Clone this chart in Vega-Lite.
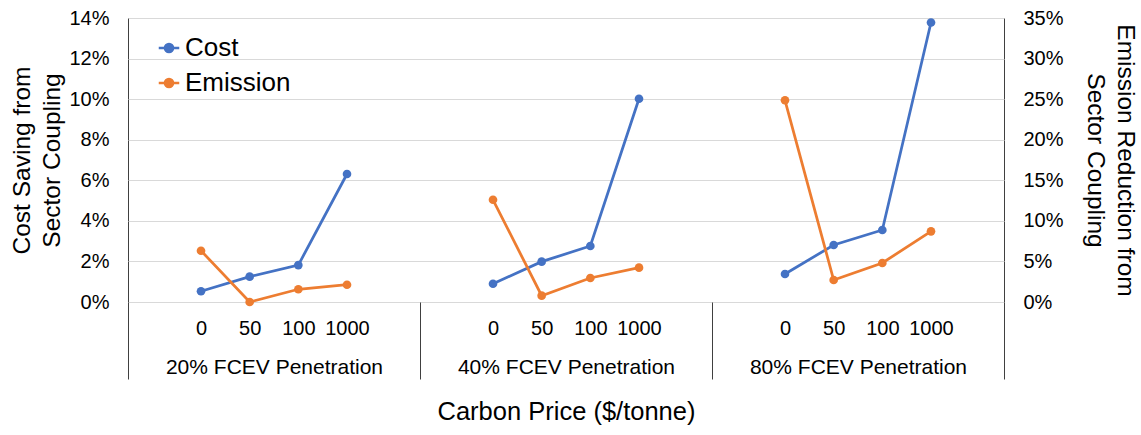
{
  "$schema": "https://vega.github.io/schema/vega-lite/v6.json",
  "width": 876,
  "height": 284,
  "autosize": {"type": "none"},
  "padding": {"left": 128, "top": 18, "right": 137, "bottom": 133},
  "background": "white",
  "config": {
    "font": "Liberation Sans",
    "view": {"stroke": "#404040", "strokeWidth": 1},
    "axis": {"labelColor": "#000000", "titleColor": "#000000", "titleFontWeight": "normal", "domain": false, "ticks": false, "labelLimit": 0}
  },
  "datasets": {
    "d": [
      {"group": "20% FCEV Penetration", "price": "0", "cat": "20%|0", "cost": 0.0053, "emission": 0.0632},
      {"group": "20% FCEV Penetration", "price": "50", "cat": "20%|50", "cost": 0.0125, "emission": 0.0},
      {"group": "20% FCEV Penetration", "price": "100", "cat": "20%|100", "cost": 0.0182, "emission": 0.0157},
      {"group": "20% FCEV Penetration", "price": "1000", "cat": "20%|1000", "cost": 0.0631, "emission": 0.0213},
      {"group": "40% FCEV Penetration", "price": "0", "cat": "40%|0", "cost": 0.0090, "emission": 0.126},
      {"group": "40% FCEV Penetration", "price": "50", "cat": "40%|50", "cost": 0.0199, "emission": 0.0078},
      {"group": "40% FCEV Penetration", "price": "100", "cat": "40%|100", "cost": 0.0276, "emission": 0.0296},
      {"group": "40% FCEV Penetration", "price": "1000", "cat": "40%|1000", "cost": 0.1002, "emission": 0.0423},
      {"group": "80% FCEV Penetration", "price": "0", "cat": "80%|0", "cost": 0.0138, "emission": 0.2486},
      {"group": "80% FCEV Penetration", "price": "50", "cat": "80%|50", "cost": 0.0281, "emission": 0.0271},
      {"group": "80% FCEV Penetration", "price": "100", "cat": "80%|100", "cost": 0.0355, "emission": 0.0481},
      {"group": "80% FCEV Penetration", "price": "1000", "cat": "80%|1000", "cost": 0.1378, "emission": 0.0871}
    ],
    "groups": [
      {"group": "20% FCEV Penetration"},
      {"group": "40% FCEV Penetration"},
      {"group": "80% FCEV Penetration"}
    ]
  },
  "layer": [
    {
      "data": {"name": "d"},
      "layer": [
        {
          "mark": {"type": "line", "strokeWidth": 2.75, "clip": false, "point": {"filled": true, "size": 75}},
          "encoding": {
            "x": {
              "field": "cat", "type": "ordinal",
              "scale": {"type": "point", "padding": 0.5, "domain": ["20%|xa", "20%|0", "20%|50", "20%|100", "20%|1000", "20%|xb", "40%|xa", "40%|0", "40%|50", "40%|100", "40%|1000", "40%|xb", "80%|xa", "80%|0", "80%|50", "80%|100", "80%|1000", "80%|xb"]},
              "axis": {"orient": "bottom", "title": null, "grid": false, "labelAngle": 0, "labelFontSize": 20, "labelBaseline": "middle", "labelPadding": 26, "labelOverlap": false, "labelExpr": "indexof(datum.value, '|x') >= 0 ? '' : split(datum.value, '|')[1]"}
            },
            "y": {
              "field": "cost", "type": "quantitative",
              "scale": {"domain": [0, 0.14], "nice": false, "zero": true},
              "axis": {"orient": "left", "values": [0, 0.02, 0.04, 0.06, 0.08, 0.1, 0.12, 0.14], "format": ".0%", "grid": true, "gridColor": "#d9d9d9", "labelFontSize": 20, "labelPadding": 19, "title": ["Cost Saving from", "Sector Coupling"], "titleFontSize": 24.5, "titleLineHeight": 30, "titlePadding": 4}
            },
            "color": {
              "datum": "Cost", "type": "nominal",
              "scale": {"domain": ["Cost", "Emission"], "range": ["#4472C4", "#ED7D31"]},
              "legend": {
                "title": null, "orient": "none", "legendX": 28, "legendY": 17,
                "labelFontSize": 26, "labelColor": "#000000", "symbolSize": 420, "symbolStrokeWidth": 2.5,
                "symbolType": "M-1,0H1M-0.4,0A0.4,0.4,0,1,0,0.4,0A0.4,0.4,0,1,0,-0.4,0Z",
                "rowPadding": 9, "labelOffset": 3,
                "encode": {"symbols": {"update": {"fill": {"signal": "scale('color', datum.value)"}}}}
              }
            },
            "detail": {"field": "group"}
          }
        },
        {
          "mark": {"type": "line", "strokeWidth": 2.75, "clip": false, "point": {"filled": true, "size": 75}},
          "encoding": {
            "x": {"field": "cat", "type": "ordinal"},
            "y": {
              "field": "emission", "type": "quantitative",
              "scale": {"domain": [0, 0.35], "nice": false, "zero": true},
              "axis": {"orient": "right", "values": [0, 0.05, 0.1, 0.15, 0.2, 0.25, 0.3, 0.35], "format": ".0%", "grid": false, "labelFontSize": 20, "labelPadding": 19, "title": ["Emission Reduction from", "Sector Coupling"], "titleFontSize": 24.5, "titleLineHeight": 30, "titlePadding": 19}
            },
            "color": {"datum": "Emission", "type": "nominal"},
            "detail": {"field": "group"}
          }
        }
      ],
      "resolve": {"scale": {"y": "independent"}}
    },
    {
      "data": {"name": "groups"},
      "mark": {"type": "point", "opacity": 0},
      "encoding": {
        "x": {
          "field": "group", "type": "nominal",
          "scale": {"type": "band", "paddingInner": 0, "paddingOuter": 0, "domain": ["20% FCEV Penetration", "40% FCEV Penetration", "80% FCEV Penetration"]},
          "axis": {"orient": "bottom", "ticks": true, "tickBand": "extent", "tickSize": 77, "tickColor": "#404040", "tickWidth": 1, "grid": false, "labelAngle": 0, "labelFontSize": 21, "labelBaseline": "middle", "labelPadding": -12, "title": "Carbon Price ($/tonne)", "titleFontSize": 25.5, "titlePadding": 20}
        }
      }
    }
  ],
  "resolve": {"scale": {"x": "independent", "y": "independent"}, "axis": {"x": "independent"}}
}
